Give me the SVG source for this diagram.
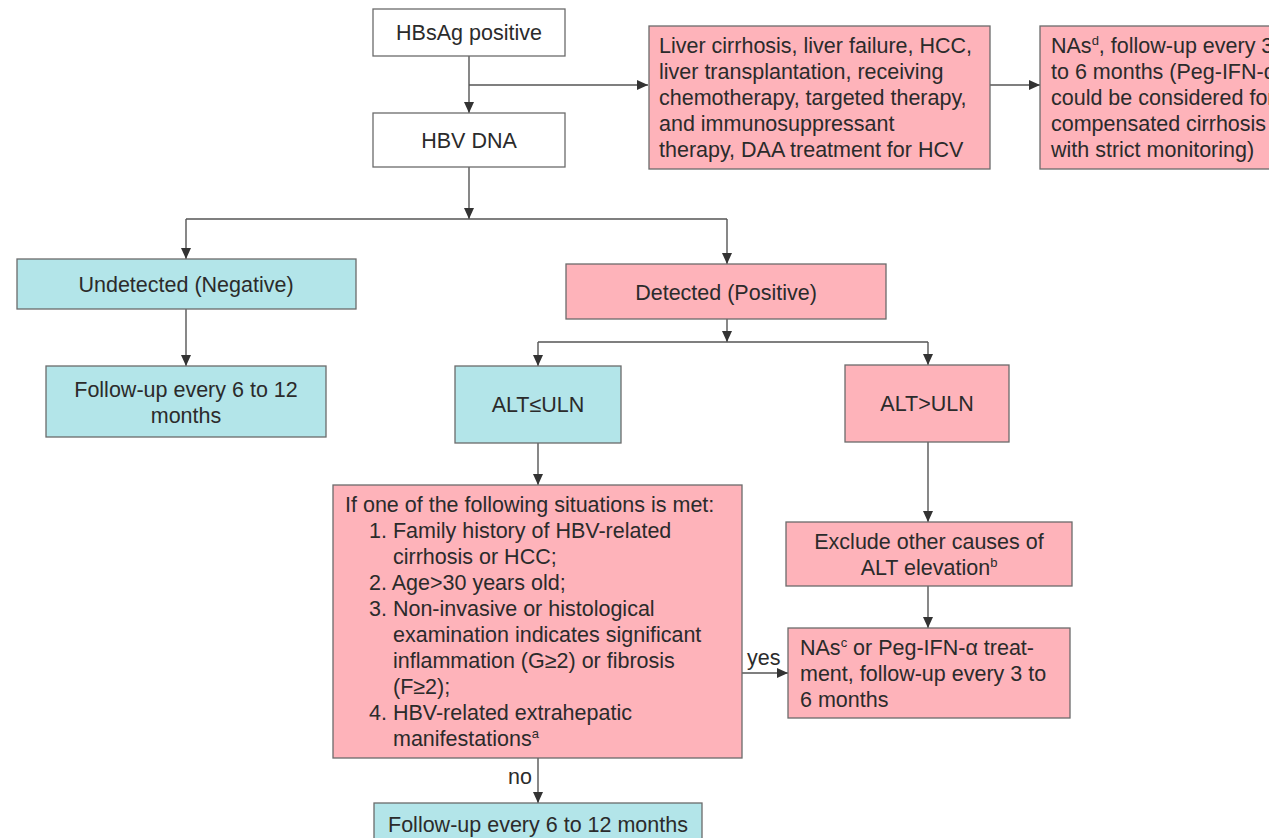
<svg xmlns="http://www.w3.org/2000/svg" width="1269" height="838" viewBox="0 0 1269 838">
<defs>
<style>
.box{stroke:#6b6b6b;stroke-width:1.3}
.w{fill:#ffffff}
.p{fill:#feb3ba}
.c{fill:#b3e5e9}
text{font-family:"Liberation Sans",Arial,sans-serif;font-size:21.5px;fill:#2b2b2b}
.m{text-anchor:middle}
.sup{font-size:13px}
.con{fill:none;stroke:#555;stroke-width:1.4}
</style>
<marker id="ah" markerUnits="userSpaceOnUse" markerWidth="12" markerHeight="10" refX="11" refY="5" orient="auto">
<path d="M0,0 L11,5 L0,10 z" fill="#333"/>
</marker>
</defs>
<rect width="1269" height="838" fill="#ffffff"/>

<g id="connectors">
<path class="con" d="M469,56 V113" marker-end="url(#ah)"/>
<path class="con" d="M469,85 H648" marker-end="url(#ah)"/>
<path class="con" d="M990,85 H1040" marker-end="url(#ah)"/>
<path class="con" d="M469,167 V219" marker-end="url(#ah)"/>
<path class="con" d="M186,219 H727"/>
<path class="con" d="M186,219 V259" marker-end="url(#ah)"/>
<path class="con" d="M727,219 V264" marker-end="url(#ah)"/>
<path class="con" d="M186,309 V366" marker-end="url(#ah)"/>
<path class="con" d="M727,319 V342" marker-end="url(#ah)"/>
<path class="con" d="M538,342 H928"/>
<path class="con" d="M538,342 V366" marker-end="url(#ah)"/>
<path class="con" d="M928,342 V365" marker-end="url(#ah)"/>
<path class="con" d="M538,443 V485" marker-end="url(#ah)"/>
<path class="con" d="M928,442 V522" marker-end="url(#ah)"/>
<path class="con" d="M928,586 V628" marker-end="url(#ah)"/>
<path class="con" d="M742,673 H788" marker-end="url(#ah)"/>
<path class="con" d="M538,758 V803" marker-end="url(#ah)"/>
<text x="747" y="665">yes</text>
<text x="508" y="784">no</text>
</g>

<g id="hbsag">
<rect class="box w" x="373" y="9" width="192" height="47"/>
<text class="m" x="469" y="40">HBsAg positive</text>
</g>

<g id="hbvdna">
<rect class="box w" x="373" y="113" width="192" height="54"/>
<text class="m" x="469" y="148">HBV DNA</text>
</g>

<g id="special">
<rect class="box p" x="649" y="26" width="341" height="143"/>
<text x="659" y="53">Liver cirrhosis, liver failure, HCC,</text>
<text x="659" y="79">liver transplantation, receiving</text>
<text x="659" y="105">chemotherapy, targeted therapy,</text>
<text x="659" y="131">and immunosuppressant</text>
<text x="659" y="157">therapy, DAA treatment for HCV</text>
</g>

<g id="nas-special">
<rect class="box p" x="1040" y="26" width="260" height="143"/>
<text x="1051" y="53">NAs<tspan class="sup" dy="-8">d</tspan><tspan dy="8">, follow-up every 3</tspan></text>
<text x="1051" y="79">to 6 months (Peg-IFN-α</text>
<text x="1051" y="105">could be considered for</text>
<text x="1051" y="131">compensated cirrhosis</text>
<text x="1051" y="157">with strict monitoring)</text>
</g>

<g id="undetected">
<rect class="box c" x="17" y="259" width="339" height="50"/>
<text class="m" x="186" y="292">Undetected (Negative)</text>
</g>

<g id="followup-left">
<rect class="box c" x="46" y="366" width="280" height="71"/>
<text class="m" x="186" y="397">Follow-up every 6 to 12</text>
<text class="m" x="186" y="423">months</text>
</g>

<g id="detected">
<rect class="box p" x="566" y="264" width="320" height="55"/>
<text class="m" x="726" y="300">Detected (Positive)</text>
</g>

<g id="alt-le">
<rect class="box c" x="455" y="366" width="166" height="77"/>
<text class="m" x="538" y="412">ALT≤ULN</text>
</g>

<g id="alt-gt">
<rect class="box p" x="845" y="365" width="164" height="77"/>
<text class="m" x="927" y="411">ALT&gt;ULN</text>
</g>

<g id="situations">
<rect class="box p" x="333" y="485" width="409" height="273"/>
<text x="345" y="512">If one of the following situations is met:</text>
<text x="369" y="538">1. Family history of HBV-related</text>
<text x="393" y="564">cirrhosis or HCC;</text>
<text x="369" y="590">2. Age&gt;30 years old;</text>
<text x="369" y="616">3. Non-invasive or histological</text>
<text x="393" y="642">examination indicates significant</text>
<text x="393" y="668">inflammation (G≥2) or fibrosis</text>
<text x="393" y="694">(F≥2);</text>
<text x="369" y="720">4. HBV-related extrahepatic</text>
<text x="393" y="746">manifestations<tspan class="sup" dy="-8">a</tspan></text>
</g>

<g id="exclude">
<rect class="box p" x="786" y="522" width="286" height="64"/>
<text class="m" x="929" y="549">Exclude other causes of</text>
<text class="m" x="929" y="575">ALT elevation<tspan class="sup" dy="-8">b</tspan></text>
</g>

<g id="nas-treat">
<rect class="box p" x="788" y="628" width="282" height="90"/>
<text x="800" y="655">NAs<tspan class="sup" dy="-8">c</tspan><tspan dy="8"> or Peg-IFN-α treat-</tspan></text>
<text x="800" y="681">ment, follow-up every 3 to</text>
<text x="800" y="707">6 months</text>
</g>

<g id="followup-bottom">
<rect class="box c" x="374" y="803" width="328" height="45"/>
<text class="m" x="538" y="832">Follow-up every 6 to 12 months</text>
</g>
</svg>
